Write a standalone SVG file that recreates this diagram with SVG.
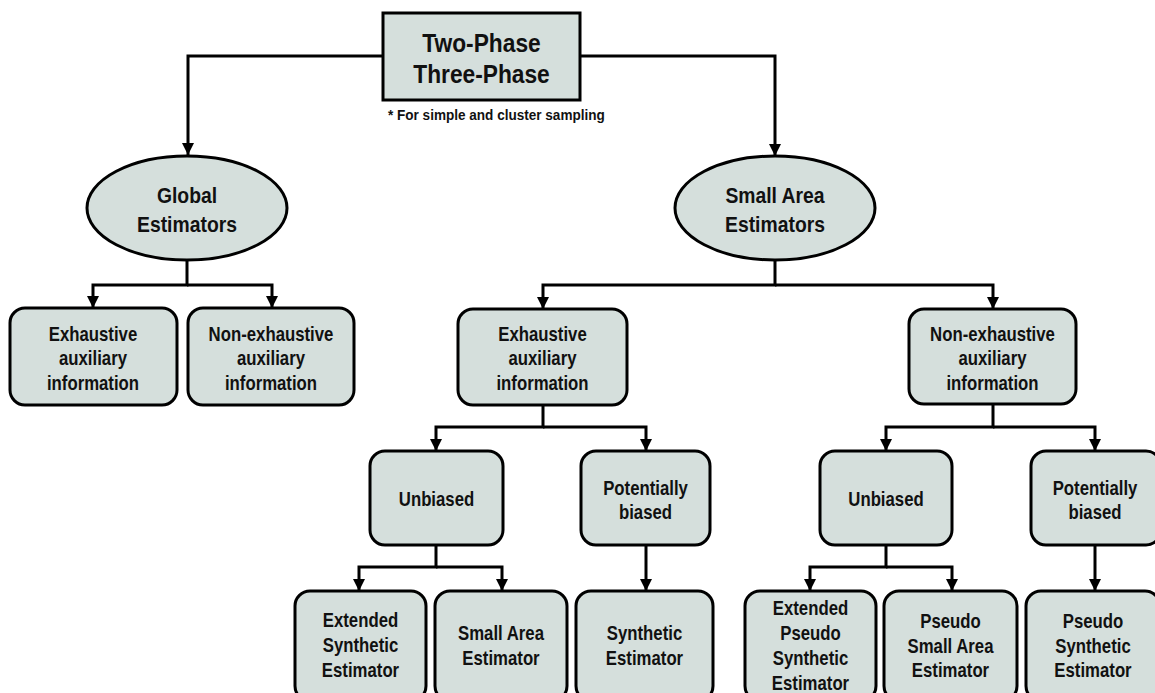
<svg xmlns="http://www.w3.org/2000/svg" width="1155" height="693" viewBox="0 0 1155 693">
<style>
.box{fill:#d5dfdc;stroke:#000;stroke-width:3}
.t{font-family:"Liberation Sans",Arial,sans-serif;font-weight:bold;fill:#111;text-anchor:middle}
.n{font-size:19.5px}
.e{font-size:22.5px}
.h{font-size:25px}
.f{font-size:15.5px;text-anchor:start}
.c{fill:none;stroke:#000;stroke-width:3}
</style>
<defs>
<marker id="ah" markerUnits="userSpaceOnUse" markerWidth="13" markerHeight="13" viewBox="0 0 13 13" refX="12" refY="6.5" orient="auto">
<path d="M0,0.5 L12,6.5 L0,12.5 Z" fill="#000"/>
</marker>
</defs>
<rect width="1155" height="693" fill="#fff"/>
<g id="connectors">
<path class="c" d="M383,56 H188 V155" marker-end="url(#ah)"/>
<path class="c" d="M580,56 H775 V156" marker-end="url(#ah)"/>
<path class="c" d="M187,260 V285 H93 V308" marker-end="url(#ah)"/>
<path class="c" d="M187,285 H272 V308" marker-end="url(#ah)"/>
<path class="c" d="M775,261 V285 H543 V309" marker-end="url(#ah)"/>
<path class="c" d="M775,285 H993 V309" marker-end="url(#ah)"/>
<path class="c" d="M543,405 V427 H436 V451" marker-end="url(#ah)"/>
<path class="c" d="M543,427 H646 V451" marker-end="url(#ah)"/>
<path class="c" d="M993,404 V427 H886 V451" marker-end="url(#ah)"/>
<path class="c" d="M993,427 H1095 V451" marker-end="url(#ah)"/>
<path class="c" d="M436,545 V567 H359 V591" marker-end="url(#ah)"/>
<path class="c" d="M436,567 H502 V591" marker-end="url(#ah)"/>
<path class="c" d="M646,545 V591" marker-end="url(#ah)"/>
<path class="c" d="M886,545 V567 H810 V591" marker-end="url(#ah)"/>
<path class="c" d="M886,567 H952 V591" marker-end="url(#ah)"/>
<path class="c" d="M1095,545 V591" marker-end="url(#ah)"/>
</g>
<g id="root">
<rect class="box" x="383" y="13" width="197" height="87"/>
<g transform="translate(481.5,0) scale(0.91,1)">
<text class="t h" x="0" y="52">Two-Phase</text>
<text class="t h" x="0" y="83">Three-Phase</text>
</g>
</g>
<g id="note">
<text class="t f" transform="translate(388,120) scale(0.875,1)" x="0" y="0">* For simple and cluster sampling</text>
</g>
<g id="global">
<ellipse class="box" cx="187" cy="208" rx="100" ry="52"/>
<g transform="translate(187,0) scale(0.86,1)">
<text class="t e" x="0" y="203">Global</text>
<text class="t e" x="0" y="232">Estimators</text>
</g>
</g>
<g id="small-area">
<ellipse class="box" cx="775" cy="208" rx="100" ry="52"/>
<g transform="translate(775,0) scale(0.86,1)">
<text class="t e" x="0" y="203">Small Area</text>
<text class="t e" x="0" y="232">Estimators</text>
</g>
</g>
<g id="g-exh">
<rect class="box" x="10" y="308" width="167" height="97" rx="15"/>
<g transform="translate(93,0) scale(0.86,1)">
<text class="t n" x="0" y="341">Exhaustive</text>
<text class="t n" x="0" y="365">auxiliary</text>
<text class="t n" x="0" y="390">information</text>
</g>
</g>
<g id="g-nonexh">
<rect class="box" x="188" y="308" width="166" height="97" rx="15"/>
<g transform="translate(271,0) scale(0.86,1)">
<text class="t n" x="0" y="341">Non-exhaustive</text>
<text class="t n" x="0" y="365">auxiliary</text>
<text class="t n" x="0" y="390">information</text>
</g>
</g>
<g id="s-exh">
<rect class="box" x="458" y="309" width="169" height="96" rx="15"/>
<g transform="translate(542.5,0) scale(0.86,1)">
<text class="t n" x="0" y="341">Exhaustive</text>
<text class="t n" x="0" y="365">auxiliary</text>
<text class="t n" x="0" y="390">information</text>
</g>
</g>
<g id="s-nonexh">
<rect class="box" x="909" y="309" width="167" height="95" rx="15"/>
<g transform="translate(992.5,0) scale(0.86,1)">
<text class="t n" x="0" y="341">Non-exhaustive</text>
<text class="t n" x="0" y="365">auxiliary</text>
<text class="t n" x="0" y="390">information</text>
</g>
</g>
<g id="e-unbiased">
<rect class="box" x="370" y="451" width="133" height="94" rx="15"/>
<g transform="translate(436.5,0) scale(0.86,1)">
<text class="t n" x="0" y="506">Unbiased</text>
</g>
</g>
<g id="e-biased">
<rect class="box" x="581" y="451" width="129" height="94" rx="15"/>
<g transform="translate(645.5,0) scale(0.86,1)">
<text class="t n" x="0" y="495">Potentially</text>
<text class="t n" x="0" y="519">biased</text>
</g>
</g>
<g id="n-unbiased">
<rect class="box" x="820" y="451" width="132" height="94" rx="15"/>
<g transform="translate(886,0) scale(0.86,1)">
<text class="t n" x="0" y="506">Unbiased</text>
</g>
</g>
<g id="n-biased">
<rect class="box" x="1031" y="451" width="130" height="94" rx="15"/>
<g transform="translate(1095,0) scale(0.86,1)">
<text class="t n" x="0" y="495">Potentially</text>
<text class="t n" x="0" y="519">biased</text>
</g>
</g>
<g id="ext-synth">
<rect class="box" x="295" y="591" width="131" height="110" rx="15"/>
<g transform="translate(360.5,0) scale(0.86,1)">
<text class="t n" x="0" y="627">Extended</text>
<text class="t n" x="0" y="652">Synthetic</text>
<text class="t n" x="0" y="677">Estimator</text>
</g>
</g>
<g id="small-area-est">
<rect class="box" x="435" y="591" width="132" height="110" rx="15"/>
<g transform="translate(501,0) scale(0.86,1)">
<text class="t n" x="0" y="640">Small Area</text>
<text class="t n" x="0" y="665">Estimator</text>
</g>
</g>
<g id="synth">
<rect class="box" x="576" y="591" width="137" height="110" rx="15"/>
<g transform="translate(644.5,0) scale(0.86,1)">
<text class="t n" x="0" y="640">Synthetic</text>
<text class="t n" x="0" y="665">Estimator</text>
</g>
</g>
<g id="ext-pseudo-synth">
<rect class="box" x="745" y="591" width="131" height="110" rx="15"/>
<g transform="translate(810.5,0) scale(0.86,1)">
<text class="t n" x="0" y="615">Extended</text>
<text class="t n" x="0" y="640">Pseudo</text>
<text class="t n" x="0" y="665">Synthetic</text>
<text class="t n" x="0" y="690">Estimator</text>
</g>
</g>
<g id="pseudo-small-area">
<rect class="box" x="884" y="591" width="133" height="110" rx="15"/>
<g transform="translate(950.5,0) scale(0.86,1)">
<text class="t n" x="0" y="628">Pseudo</text>
<text class="t n" x="0" y="653">Small Area</text>
<text class="t n" x="0" y="677">Estimator</text>
</g>
</g>
<g id="pseudo-synth">
<rect class="box" x="1026" y="591" width="134" height="110" rx="15"/>
<g transform="translate(1093,0) scale(0.86,1)">
<text class="t n" x="0" y="628">Pseudo</text>
<text class="t n" x="0" y="653">Synthetic</text>
<text class="t n" x="0" y="677">Estimator</text>
</g>
</g>
</svg>
